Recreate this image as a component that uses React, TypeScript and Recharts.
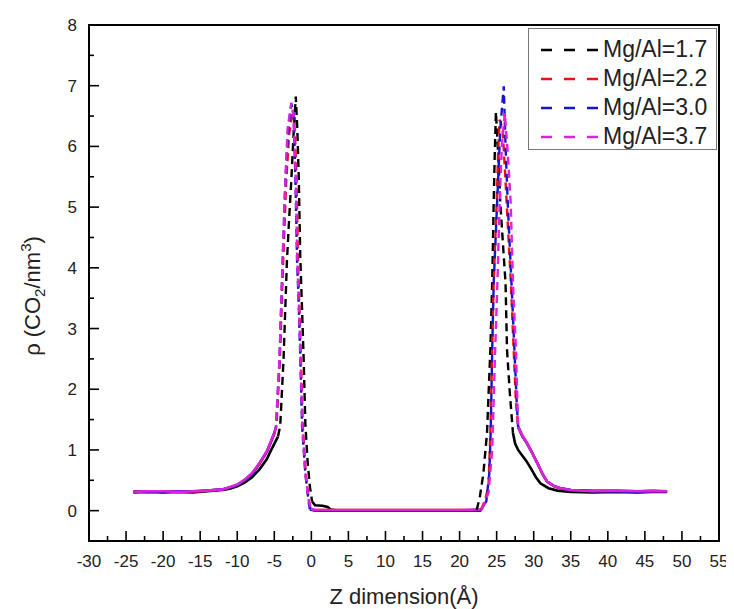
import React from 'react';
import { LineChart, Line, XAxis, YAxis, ReferenceArea, ReferenceLine } from 'recharts';

// ---- data ----
const z17 = [-24,-22,-20,-18,-16,-14,-12,-11,-10,-9,-8,-7,-6,-5.5,-5,-4.5,-4.2,-3.75,-3.3,-3.0,-2.7,-2.4,-2.1,-1.9,-1.7,-1.5,-1.25,-1.04,-0.8,-0.5,-0.2,0.1,0.5,1.5,2.2,2.6,3.5,8,12,16,20,22.3,22.7,23.2,23.7,24.15,24.4,24.6,24.75,24.9,25.2,25.5,25.9,26.2,26.4,26.8,27.2,27.5,27.9,28.5,29.0,29.6,30.3,30.9,32,33.2,35,38,41,44,46,48];
const rho17 = [0.30,0.31,0.30,0.31,0.30,0.32,0.34,0.36,0.40,0.46,0.55,0.68,0.85,0.98,1.10,1.22,1.4,2.5,4.1,4.8,5.45,6.2,6.82,6.3,5.5,4.2,3.3,2.5,1.4,0.8,0.4,0.15,0.09,0.08,0.06,0.02,0.0,0.0,0.0,0.0,0.0,0.01,0.2,0.6,1.28,2.65,3.75,5.06,5.9,6.57,5.9,5.06,4.3,3.75,2.65,1.9,1.28,1.1,1.0,0.9,0.82,0.7,0.55,0.45,0.37,0.33,0.31,0.30,0.31,0.30,0.31,0.31];
const peaks17: [number, number][] = [[-4.5, 0.1], [22.3, 27.2]];

const z22 = [-24,-22,-20,-18,-16,-14,-12,-11,-10,-9,-8,-7,-6,-5.5,-5,-4.7,-4.25,-3.8,-3.4,-3.0,-2.5,-2.2,-2.0,-1.8,-1.6,-1.4,-1.15,-0.75,-0.35,-0.1,0.5,5,10,15,20,22.9,23.5,23.9,24.15,24.4,24.6,25.0,25.2,25.4,25.8,26.3,26.9,27.3,27.6,27.9,28.5,29.1,29.8,30.5,31.2,31.8,32.8,33.6,35,38,41,44,46,48];
const rho22 = [0.32,0.31,0.32,0.32,0.31,0.33,0.35,0.38,0.42,0.50,0.61,0.77,0.97,1.12,1.27,1.4,2.5,4.1,5.4,6.2,6.6,6.2,5.45,4.13,3.3,2.48,1.38,0.6,0.18,0.02,0.01,0.01,0.01,0.01,0.01,0.01,0.2,0.4,1.28,2.65,3.75,5.06,5.9,6.44,6.3,5.2,3.8,2.65,1.8,1.38,1.22,1.11,0.95,0.78,0.6,0.48,0.4,0.37,0.34,0.33,0.33,0.32,0.33,0.32];
const peaks22: [number, number][] = [[-5, -0.1], [22.9, 27.9]];

const z30 = [-24,-22,-20,-18,-16,-14,-12,-11,-10,-9,-8,-7,-6,-5.5,-5,-4.77,-4.3,-3.87,-3.5,-3.1,-2.7,-2.4,-2.15,-1.93,-1.7,-1.48,-1.25,-0.8,-0.4,-0.2,0.5,5,10,15,20,22.8,23.3,23.6,24.0,24.2,24.4,24.6,25.06,25.5,25.96,26.2,26.5,27.0,27.4,27.7,27.9,28.5,29.1,29.8,30.5,31.2,31.8,32.8,33.6,35,38,41,44,46,48];
const rho30 = [0.31,0.32,0.31,0.32,0.32,0.33,0.35,0.38,0.42,0.50,0.60,0.78,0.97,1.12,1.28,1.38,2.48,4.13,5.45,6.3,6.7,6.55,5.45,4.13,3.4,2.48,1.38,0.6,0.18,0.02,0,0,0,0,0,0,0.1,0.15,0.6,1.3,2.65,3.75,5.06,6.3,6.99,6.0,5.06,3.75,2.65,1.8,1.38,1.22,1.11,0.95,0.78,0.6,0.48,0.4,0.37,0.34,0.32,0.32,0.31,0.32,0.32];
const peaks30: [number, number][] = [[-5, -0.2], [23.3, 27.9]];

const z37 = [-24,-22,-20,-18,-16,-14,-12,-11,-10,-9,-8,-7,-6,-5.5,-5,-4.77,-4.3,-3.87,-3.5,-3.2,-2.7,-2.4,-2.1,-1.9,-1.65,-1.45,-1.2,-0.8,-0.4,-0.1,0.5,5,10,15,20,23.0,23.9,24.4,24.8,25.1,25.4,25.7,26.1,26.5,26.9,27.2,27.6,27.8,27.9,28.4,29.1,29.8,30.5,31.2,31.8,32.8,33.6,35,38,41,44,46,48];
const rho37 = [0.31,0.32,0.32,0.31,0.32,0.33,0.35,0.39,0.43,0.51,0.62,0.78,0.98,1.13,1.28,1.38,2.48,4.13,5.45,6.3,6.72,6.5,5.45,4.13,3.3,2.48,1.38,0.6,0.2,0.03,0.01,0.01,0.01,0.01,0.01,0.02,0.29,1.0,2.65,3.75,5.06,6.0,6.55,5.9,5.06,3.75,2.65,1.8,1.38,1.25,1.11,0.95,0.78,0.6,0.48,0.4,0.37,0.34,0.32,0.33,0.32,0.32,0.32];
const peaks37: [number, number][] = [[-5, -0.1], [23.0, 27.9]];

const seriesNames = ['Mg/Al=1.7', 'Mg/Al=2.2', 'Mg/Al=3.0', 'Mg/Al=3.7'];
const seriesColors = ['#000000', '#ee1111', '#1515cc', '#dd22dd'];

const xMajorTicks = [-30,-25,-20,-15,-10,-5,0,5,10,15,20,25,30,35,40,45,50,55];
const xMinorTicks = [-27.5,-22.5,-17.5,-12.5,-7.5,-2.5,2.5,7.5,12.5,17.5,22.5,27.5,32.5,37.5,42.5,47.5,52.5];
const yMajorTicks = [0,1,2,3,4,5,6,7,8];
const yMinorTicks = [0.5,1.5,2.5,3.5,4.5,5.5,6.5,7.5];

const X_DOMAIN: [number, number] = [-30, 55];
const Y_DOMAIN: [number, number] = [-0.5, 8];

const FONT = '"Liberation Sans", Arial, Helvetica, sans-serif';
const W = 726;
const H = 601;
const M_TOP = 17;
const M_RIGHT = 15;
const Y_W = 81;
const X_H = 68;
const PLOT_W = W - Y_W - M_RIGHT;
const PLOT_H = H - X_H - M_TOP;
// minor tick length (5px) expressed in data units
const MINOR_DX = (5 * (X_DOMAIN[1] - X_DOMAIN[0])) / PLOT_W;
const MINOR_DY = (5 * (Y_DOMAIN[1] - Y_DOMAIN[0])) / PLOT_H;

type Pt = { x: number; y: number | null };

function build(xs: number[], ys: number[], peaks: [number, number][]) {
  const inside = (x: number) => peaks.some(([a, b]) => x > a && x < b);
  const onEdgeOrInside = (x: number) => peaks.some(([a, b]) => x >= a && x <= b);
  const solid: Pt[] = xs.map((x, i) => ({ x, y: inside(x) ? null : ys[i] }));
  const dashed: Pt[] = xs.map((x, i) => ({ x, y: onEdgeOrInside(x) ? ys[i] : null }));
  return { solid, dashed };
}

const allSeries = [
  build(z17, rho17, peaks17),
  build(z22, rho22, peaks22),
  build(z30, rho30, peaks30),
  build(z37, rho37, peaks37),
];

const XLabel = (props: any) => {
  const vb = props.viewBox || { x: Y_W, y: H - X_H, width: PLOT_W, height: X_H };
  const cx = vb.x + vb.width / 2;
  return (
    <text x={cx} y={vb.y + 63} textAnchor="middle" fontSize={22} fill="#222" fontFamily={FONT}>
      Z dimension(Å)
    </text>
  );
};

const YLabel = (props: any) => {
  const vb = props.viewBox || { x: 0, y: M_TOP, width: Y_W, height: PLOT_H };
  const cx = vb.x + 32;
  const cy = vb.y + vb.height / 2 + 13;
  return (
    <text
      x={cx}
      y={cy}
      transform={`rotate(-90 ${cx} ${cy})`}
      textAnchor="middle"
      fontSize={22}
      fill="#222"
      fontFamily={FONT}
    >
      <tspan>ρ (CO</tspan>
      <tspan fontSize={15} dy={5}>2</tspan>
      <tspan dy={-5}>/nm</tspan>
      <tspan fontSize={15} dy={-9}>3</tspan>
      <tspan dy={9}>)</tspan>
    </text>
  );
};

const LegendBox = () => (
  <div
    style={{
      position: 'absolute',
      left: 520,
      top: 20,
      width: 187,
      height: 120,
      border: '1.5px solid #777',
      background: '#fff',
      boxSizing: 'content-box',
      fontFamily: FONT,
    }}
  >
    {seriesNames.map((name, i) => (
      <div
        key={name}
        style={{
          position: 'absolute',
          left: 0,
          top: 6 + i * 29,
          height: 29,
          display: 'flex',
          alignItems: 'center',
        }}
      >
        <svg width={74} height={29} style={{ display: 'block' }}>
          <line x1={12} x2={69} y1={15} y2={15} stroke={seriesColors[i]} strokeWidth={2.5} strokeDasharray="11 12" />
        </svg>
        <span style={{ fontSize: 23, color: '#222', lineHeight: '29px', whiteSpace: 'nowrap' }}>{name}</span>
      </div>
    ))}
  </div>
);

const tickText = { fontSize: 17, fill: '#222', fontFamily: FONT };

export default function App() {
  return (
    <div style={{ position: 'relative', width: W, height: H }}>
      <LineChart width={W} height={H} margin={{ top: M_TOP, right: M_RIGHT, bottom: 0, left: 0 }}>
        <XAxis
          dataKey="x"
          type="number"
          domain={X_DOMAIN}
          ticks={xMajorTicks}
          interval={0}
          tick={tickText}
          tickLine={{ stroke: '#000', strokeWidth: 1.6 }}
          tickSize={-10}
          tickMargin={24}
          axisLine={{ stroke: '#000', strokeWidth: 2 }}
          height={X_H}
          allowDataOverflow
          label={<XLabel />}
        />
        <YAxis
          type="number"
          domain={Y_DOMAIN}
          ticks={yMajorTicks}
          interval={0}
          tick={tickText}
          tickLine={{ stroke: '#000', strokeWidth: 1.6 }}
          tickSize={-10}
          tickMargin={22}
          axisLine={{ stroke: '#000', strokeWidth: 2 }}
          width={Y_W}
          allowDataOverflow
          label={<YLabel />}
        />
        {xMinorTicks.map((v) => (
          <ReferenceLine
            key={`xm-${v}`}
            segment={[{ x: v, y: Y_DOMAIN[0] }, { x: v, y: Y_DOMAIN[0] + MINOR_DY }]}
            stroke="#000"
            strokeWidth={1.6}
            ifOverflow="visible"
          />
        ))}
        {yMinorTicks.map((v) => (
          <ReferenceLine
            key={`ym-${v}`}
            segment={[{ x: X_DOMAIN[0], y: v }, { x: X_DOMAIN[0] + MINOR_DX, y: v }]}
            stroke="#000"
            strokeWidth={1.6}
            ifOverflow="visible"
          />
        ))}
        {allSeries.map((s, i) => (
          <Line
            key={`solid-${i}`}
            data={s.solid}
            dataKey="y"
            type="linear"
            stroke={seriesColors[i]}
            strokeWidth={2.6}
            dot={false}
            activeDot={false}
            connectNulls={false}
            isAnimationActive={false}
          />
        ))}
        {allSeries.map((s, i) => (
          <Line
            key={`dash-${i}`}
            data={s.dashed}
            dataKey="y"
            type="linear"
            stroke={seriesColors[i]}
            strokeWidth={2.4}
            strokeDasharray="8 5"
            dot={false}
            activeDot={false}
            connectNulls={false}
            isAnimationActive={false}
          />
        ))}
        <ReferenceArea
          x1={X_DOMAIN[0]}
          x2={X_DOMAIN[1]}
          y1={Y_DOMAIN[0]}
          y2={Y_DOMAIN[1]}
          fill="none"
          fillOpacity={0}
          stroke="#000"
          strokeWidth={2}
          ifOverflow="visible"
        />
      </LineChart>
      <LegendBox />
    </div>
  );
}
